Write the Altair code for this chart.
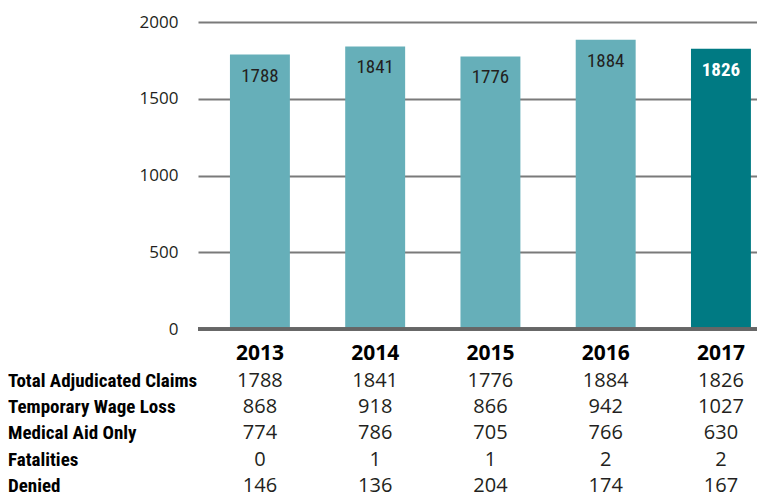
import altair as alt
import pandas as pd

years = ["2013", "2014", "2015", "2016", "2017"]
total_claims = [1788, 1841, 1776, 1884, 1826]
temporary_wage_loss = [868, 918, 866, 942, 1027]
medical_aid_only = [774, 786, 705, 766, 630]
fatalities = [0, 1, 1, 2, 2]
denied = [146, 136, 204, 174, 167]
row_labels = ["Total Adjudicated Claims", "Temporary Wage Loss", "Medical Aid Only", "Fatalities", "Denied"]
y_ticks = [0, 500, 1000, 1500, 2000]
highlight_year = "2017"

LIGHT = "#66afb9"
DARK = "#007a83"
TXT = "#231f20"
COND = "Roboto Condensed, Roboto, sans-serif"
REG = "Open Sans, Noto Sans, sans-serif"

bars_df = pd.DataFrame({"year": years, "value": total_claims,
                        "hl": [y == highlight_year for y in years]})
rows = [total_claims, temporary_wage_loss, medical_aid_only, fatalities, denied]
table_df = pd.DataFrame([{"year": y, "row": i, "txt": str(v)}
                         for i, r in enumerate(rows) for y, v in zip(years, r)])
labels_df = pd.DataFrame({"label": row_labels, "row": list(range(len(row_labels)))})
head_df = pd.DataFrame({"year": years})

xs = alt.X("year:N", sort=years,
           scale=alt.Scale(paddingInner=0.48, paddingOuter=0.165, align=0.84),
           axis=None)
yscale = alt.Scale(domain=[0, 2000], nice=False)
ys = alt.Y("value:Q", scale=yscale,
           axis=alt.Axis(values=y_ticks, title=None, domain=False, ticks=False,
                         format="d",
                         labelPadding=20, labelFont=REG, labelFontSize=17,
                         labelColor=TXT, grid=True, gridColor="#7a7a7a",
                         gridWidth=2))

bars = alt.Chart(bars_df).mark_bar().encode(
    x=xs, y=ys,
    color=alt.Color("hl:N", scale=alt.Scale(domain=[False, True], range=[LIGHT, DARK]), legend=None),
)

bar_lbl = alt.Chart(bars_df).transform_filter(alt.datum.hl == False).mark_text(
    dy=21, font=COND, fontSize=19, color=TXT
).encode(x=xs, y=alt.Y("value:Q", scale=yscale), text="value:Q")

bar_lbl_hl = alt.Chart(bars_df).transform_filter(alt.datum.hl == True).mark_text(
    dy=21, font=COND, fontSize=19, fontWeight="bold", color="white"
).encode(x=xs, y=alt.Y("value:Q", scale=yscale), text="value:Q")

zero = alt.Chart(bars_df).mark_rule(color="#666666", strokeWidth=3).encode(
    y=alt.datum(0, scale=yscale))

header = alt.Chart(head_df).transform_calculate(py="332").mark_text(
    font=REG, fontSize=21, fontWeight="bold", color="black"
).encode(x=xs, y=alt.Y("py:Q", scale=None), text="year:N")

cells = alt.Chart(table_df).transform_calculate(py="358.5 + datum.row * 26.4").mark_text(
    font=REG, fontSize=20, color=TXT
).encode(x=xs, y=alt.Y("py:Q", scale=None), text="txt:N")

row_lbl = alt.Chart(labels_df).transform_calculate(py="358.5 + datum.row * 26.4").mark_text(
    font=COND, fontSize=19, fontWeight="bold", color="black", align="left"
).encode(x=alt.value(-190), y=alt.Y("py:Q", scale=None), text="label:N")

chart = alt.layer(bars, bar_lbl, bar_lbl_hl, zero, header, cells, row_lbl).properties(
    width=559, height=307,
    autosize=alt.AutoSizeParams(type="none"),
    padding={"left": 190, "top": 14, "right": 0, "bottom": 168},
).configure_view(stroke=None)

chart.save("out.html", embed_options={"renderer": "svg", "actions": False})
